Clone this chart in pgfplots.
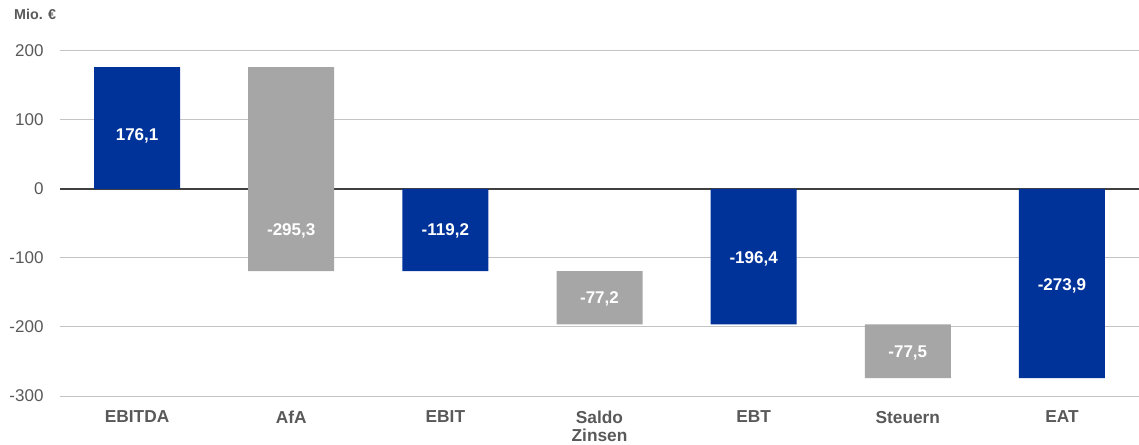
\documentclass[border=0pt]{standalone}
\usepackage{fontspec}
\setmainfont{Liberation Sans}
\usepackage{pgfplots}
\pgfplotsset{compat=1.18}
\usetikzlibrary{calc}
\definecolor{eblue}{HTML}{003399}
\definecolor{egray}{HTML}{A6A6A6}
\definecolor{gridc}{HTML}{C4C4C4}
\definecolor{txt}{HTML}{595959}
\definecolor{zeroc}{HTML}{404040}
\begin{document}
\begin{tikzpicture}
\begin{axis}[
  scale only axis, width=1079pt, height=345.3pt,
  xmin=-0.5, xmax=6.5, ymin=-300, ymax=200,
  ybar stacked, stack negative=on previous, bar width=86pt,
  axis line style={draw=none},
  major tick length=0pt,
  ymajorgrids, grid style={draw=gridc, line width=1pt},
  xtick={0,1,2,3,4,5,6},
  xticklabels={EBITDA,AfA,EBIT,{Saldo\\Zinsen},EBT,Steuern,EAT},
  xticklabel style={align=center, font=\bfseries\fontsize{17.3}{18}\selectfont, text=txt, yshift=-11.5pt},
  ytick={-300,-200,-100,0,100,200},
  yticklabels={-300,-200,-100,0,100,200},
  yticklabel style={font=\fontsize{17}{19}\selectfont, text=txt, xshift=-13pt},
  clip=false,
]
\addplot[draw=none, fill=none] coordinates {(0,0) (1,-119.2) (2,0) (3,-119.2) (4,0) (5,-196.4) (6,0)};
\addplot[draw=none, fill=egray] coordinates {(0,0) (1,295.3) (2,0) (3,-77.2) (4,0) (5,-77.5) (6,0)};
\addplot[draw=none, fill=eblue] coordinates {(0,176.1) (1,0) (2,-119.2) (3,0) (4,-196.4) (5,0) (6,-273.9)};
\draw[zeroc, line width=2pt] (axis cs:-0.5,0) -- (axis cs:6.5,0);
\coordinate (bl) at (rel axis cs:0,0);
\coordinate (tr) at (rel axis cs:1,1);
\end{axis}
\begin{axis}[
  scale only axis, width=1079pt, height=345.3pt,
  xmin=-0.5, xmax=6.5, ymin=-300, ymax=200,
  hide axis, clip=false,
]
\addplot[only marks, mark=none, nodes near coords, point meta=explicit symbolic,
  nodes near coords align={center},
  every node near coord/.style={font=\bfseries\fontsize{17}{20}\selectfont, text=white, anchor=center}]
  coordinates {(0,77)[176,1] (1,-61)[-295,3] (2,-61)[-119,2] (3,-160)[-77,2] (4,-101.5)[-196,4] (5,-238)[-77,5] (6,-141)[-273,9]};
\end{axis}
\node[anchor=west, inner sep=0pt, font=\bfseries\fontsize{14.3}{16}\selectfont, text=txt] at ($(bl |- tr)+(-46pt,36.5pt)$) {Mio. €};
\pgfresetboundingbox
\path[use as bounding box] ($(bl)+(-60pt,-48pt)$) rectangle ($(tr)+(0pt,50.7pt)$);
\end{tikzpicture}
\end{document}
